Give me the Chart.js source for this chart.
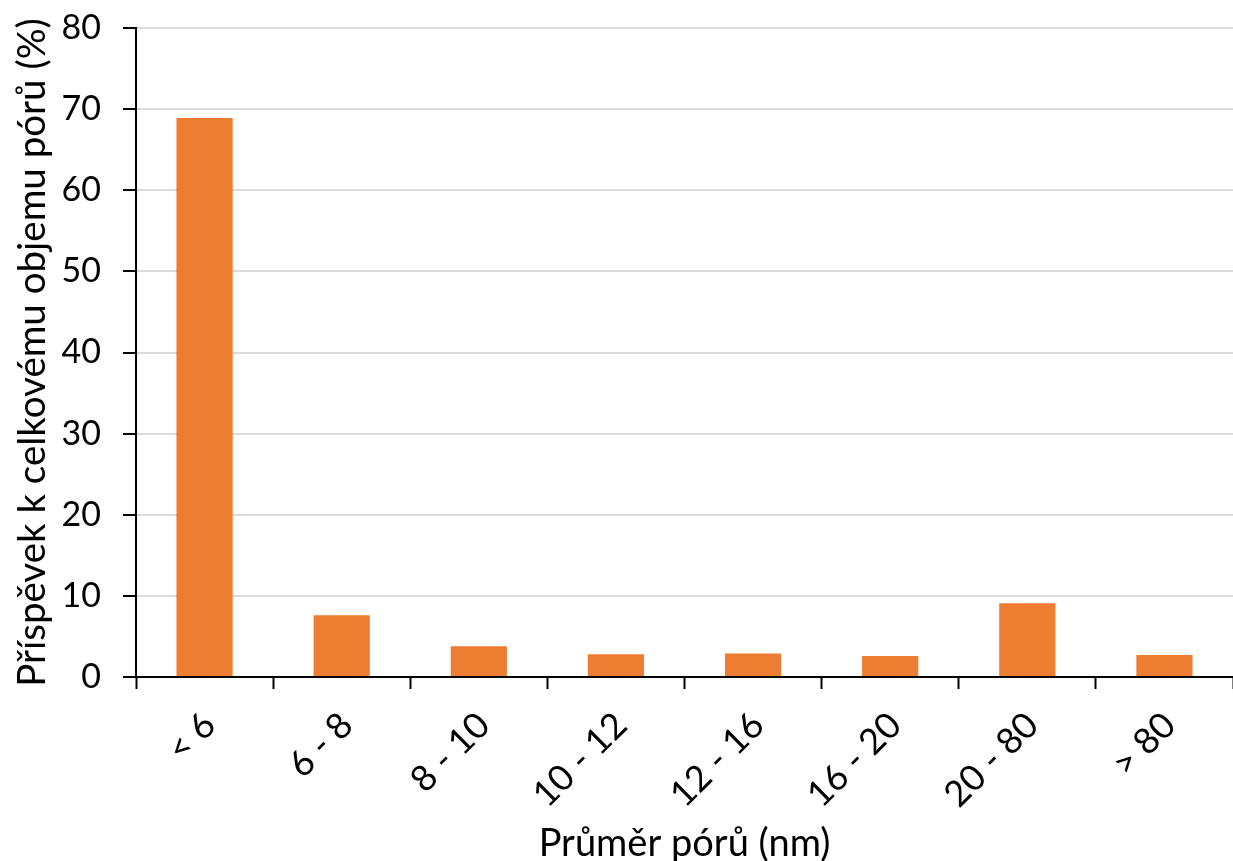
<!DOCTYPE html>
<html>
<head>
<meta charset="utf-8">
<script src="https://cdn.jsdelivr.net/npm/chart.js@4"></script>
<style>
  html, body { margin: 0; padding: 0; background: #fff; }
  #wrap { width: 1233px; height: 861px; position: relative; }
</style>
</head>
<body>
<div id="wrap"><canvas id="c" width="1233" height="861"></canvas></div>
<script>
const categories = ["< 6", "6 - 8", "8 - 10", "10 - 12", "12 - 16", "16 - 20", "20 - 80", "> 80"];
const contribution = [68.9, 7.6, 3.8, 2.8, 2.9, 2.6, 9.1, 2.7];
const yTicks = [0, 10, 20, 30, 40, 50, 60, 70, 80];
const xTitle = "Průměr pórů (nm)";
const yTitle = "Příspěvek k celkovému objemu pórů (%)";

const FONT = "Lato, 'Liberation Sans', sans-serif";

new Chart(document.getElementById('c'), {
  type: 'bar',
  data: {
    labels: categories,
    datasets: [{
      data: contribution,
      backgroundColor: '#ED7D31',
      borderWidth: 0,
      barPercentage: 0.41,
      categoryPercentage: 1.0
    }]
  },
  options: {
    responsive: false,
    animation: false,
    devicePixelRatio: 1,
    layout: { padding: { top: 28, right: 0, bottom: 0, left: 9 } },
    plugins: { legend: { display: false }, tooltip: { enabled: false } },
    scales: {
      x: {
        afterFit: (axis) => { axis.height = 184; },
        grid: { display: true, drawOnChartArea: false, tickLength: 12, tickColor: '#000', tickWidth: 2 },
        border: { color: '#000', width: 2 },
        ticks: {
          color: '#000', font: { family: FONT, size: 36 }, minRotation: 45, maxRotation: 45,
          padding: 15, labelOffset: 5
        },
        title: { display: true, text: xTitle, color: '#000', font: { family: FONT, size: 38 }, padding: { top: 0, bottom: -6 } }
      },
      y: {
        min: 0, max: 80,
        afterFit: (axis) => { axis.width = 127; axis.paddingTop = 0; axis.paddingBottom = 0; },
        afterBuildTicks: (axis) => { axis.ticks = yTicks.map(v => ({ value: v })); },
        grid: { color: '#d9d9d9', lineWidth: 2, tickLength: 13, tickColor: '#000', tickWidth: 2 },
        border: { color: '#000', width: 2 },
        ticks: { color: '#000', font: { family: FONT, size: 34 }, padding: 22 },
        title: { display: true, text: yTitle, color: '#000', font: { family: FONT, size: 38.5 }, padding: { top: 0, bottom: 0 } }
      }
    }
  }
});
</script>
</body>
</html>
